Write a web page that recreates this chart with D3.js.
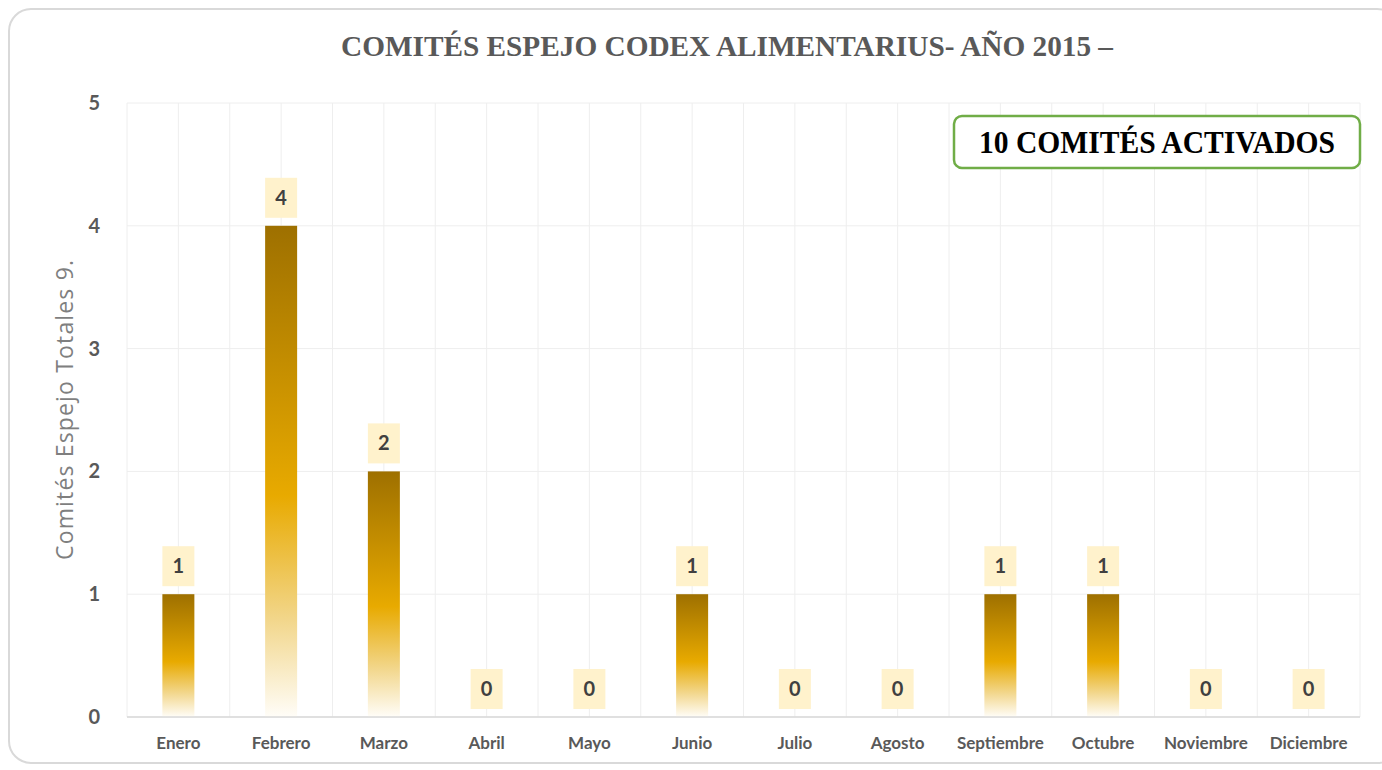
<!DOCTYPE html>
<html>
<head>
<meta charset="utf-8">
<script src="https://cdn.jsdelivr.net/npm/d3@7"></script>
<style>
  body { margin: 0; background: #ffffff; }
</style>
</head>
<body>
<div id="canvas"></div>
<script>
"use strict"

let drawingWidth = 1382;
let drawingHeight = 770;

// data
let months = ["Enero", "Febrero", "Marzo", "Abril", "Mayo", "Junio", "Julio",
              "Agosto", "Septiembre", "Octubre", "Noviembre", "Diciembre"];
let committees = [1, 4, 2, 0, 0, 1, 0, 0, 1, 1, 0, 0];
let yTicks = [0, 1, 2, 3, 4, 5];
let chartTitle = "COMITÉS ESPEJO CODEX ALIMENTARIUS- AÑO 2015 –";
let yTitle = "Comités Espejo Totales 9.";
let noteText = "10 COMITÉS ACTIVADOS";

let plot = { left: 127, right: 1360, top: 103, bottom: 717 };

let drawing = d3.select("#canvas")
    .append("svg")
    .attr("width", drawingWidth)
    .attr("height", drawingHeight);

/* gradient used by the bars */
let defs = drawing.append("defs");
let grad = defs.append("linearGradient")
    .attr("id", "barFill")
    .attr("x1", 0).attr("y1", 0)
    .attr("x2", 0).attr("y2", 1);
grad.append("stop").attr("offset", "0%").attr("stop-color", "#9e7000");
grad.append("stop").attr("offset", "55%").attr("stop-color", "#e8aa00");
grad.append("stop").attr("offset", "80%").attr("stop-color", "#f2d68a");
grad.append("stop").attr("offset", "100%").attr("stop-color", "#fffdf8");

/* chart border */
drawing.append("rect")
    .attr("x", 9)
    .attr("y", 9)
    .attr("width", 1390)
    .attr("height", 754)
    .attr("rx", 22)
    .attr("fill", "#ffffff")
    .attr("stroke", "#d9d9d9")
    .attr("stroke-width", 2);

let x = d3.scaleBand()
    .domain(months)
    .range([plot.left, plot.right])
    .paddingInner(0)
    .paddingOuter(0);

let y = d3.scaleLinear()
    .domain([0, 5])
    .range([plot.bottom, plot.top]);

/* gridlines: horizontal at each tick, vertical at band edges and centres */
let grid = drawing.append("g");
grid.selectAll(".hgrid")
    .data(yTicks)
    .enter()
    .append("line")
    .attr("x1", plot.left)
    .attr("x2", plot.right)
    .attr("y1", d => y(d))
    .attr("y2", d => y(d))
    .attr("stroke", "#eeeeee")
    .attr("stroke-width", 1);

let vLines = [];
months.forEach(m => {
    vLines.push(x(m));
    vLines.push(x(m) + x.bandwidth() / 2);
});
vLines.push(plot.right);

grid.selectAll(".vgrid")
    .data(vLines)
    .enter()
    .append("line")
    .attr("x1", d => d)
    .attr("x2", d => d)
    .attr("y1", plot.top)
    .attr("y2", plot.bottom)
    .attr("stroke", "#eeeeee")
    .attr("stroke-width", 1);

/* bars */
let barWidth = 32;
drawing.selectAll(".bar")
    .data(committees)
    .enter()
    .append("rect")
    .attr("x", (d, i) => x(months[i]) + x.bandwidth() / 2 - barWidth / 2)
    .attr("y", d => y(d))
    .attr("width", barWidth)
    .attr("height", d => y(0) - y(d))
    .attr("fill", "url(#barFill)");

/* x axis line */
drawing.append("line")
    .attr("x1", plot.left)
    .attr("x2", plot.right)
    .attr("y1", plot.bottom)
    .attr("y2", plot.bottom)
    .attr("stroke", "#d9d9d9")
    .attr("stroke-width", 1.5);

/* data labels with pale boxes */
let labels = drawing.selectAll(".lbl")
    .data(committees)
    .enter()
    .append("g")
    .attr("transform", (d, i) =>
        "translate(" + (x(months[i]) + x.bandwidth() / 2) + "," + (y(d) - 8) + ")");

labels.append("rect")
    .attr("x", -16)
    .attr("y", -40)
    .attr("width", 32)
    .attr("height", 40)
    .attr("fill", "#fff2cc");

labels.append("text")
    .attr("x", 0)
    .attr("y", -13)
    .attr("text-anchor", "middle")
    .attr("font-family", "Lato, 'Open Sans', sans-serif")
    .attr("font-weight", "bold")
    .attr("font-size", 20)
    .attr("fill", "#404040")
    .text(d => d);

/* axes via d3 */
let yAxis = drawing.append("g")
    .attr("transform", "translate(" + (plot.left - 24) + ",0)")
    .call(d3.axisLeft(y).tickValues(yTicks).tickSize(0).tickFormat(d3.format("d")));
yAxis.select(".domain").remove();
yAxis.selectAll("text")
    .attr("font-family", "Lato, 'Open Sans', sans-serif")
    .attr("font-weight", "bold")
    .attr("font-size", 20)
    .attr("fill", "#595959");

let xAxis = drawing.append("g")
    .attr("transform", "translate(0," + (plot.bottom + 17) + ")")
    .call(d3.axisBottom(x).tickSize(0));
xAxis.select(".domain").remove();
xAxis.selectAll("text")
    .attr("font-family", "Lato, 'Open Sans', sans-serif")
    .attr("font-weight", "bold")
    .attr("font-size", 17)
    .attr("fill", "#595959");

/* titles */
drawing.append("text")
    .attr("x", 727)
    .attr("y", 56)
    .attr("text-anchor", "middle")
    .attr("font-family", "'Liberation Serif', 'DejaVu Serif', serif")
    .attr("font-weight", "bold")
    .attr("font-size", 29)
    .attr("fill", "#595959")
    .attr("textLength", 772)
    .attr("lengthAdjust", "spacingAndGlyphs")
    .text(chartTitle);

drawing.append("text")
    .attr("transform", "translate(73,410) rotate(-90)")
    .attr("text-anchor", "middle")
    .attr("font-family", "'Open Sans', 'Noto Sans', sans-serif")
    .attr("font-size", 23)
    .attr("fill", "#7f7f7f")
    .attr("textLength", 300)
    .text(yTitle);

/* annotation box */
drawing.append("rect")
    .attr("x", 954)
    .attr("y", 116)
    .attr("width", 406)
    .attr("height", 52)
    .attr("rx", 8)
    .attr("fill", "#ffffff")
    .attr("stroke", "#70ad47")
    .attr("stroke-width", 2.5);

drawing.append("text")
    .attr("x", 1157)
    .attr("y", 153)
    .attr("text-anchor", "middle")
    .attr("font-family", "'Liberation Serif', 'DejaVu Serif', serif")
    .attr("font-weight", "bold")
    .attr("font-size", 31)
    .attr("fill", "#000000")
    .attr("textLength", 356)
    .attr("lengthAdjust", "spacingAndGlyphs")
    .text(noteText);
</script>
</body>
</html>
